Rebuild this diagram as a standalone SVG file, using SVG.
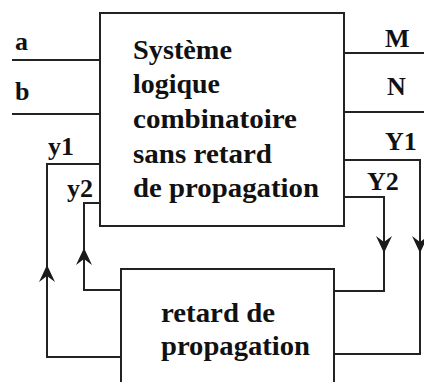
<svg xmlns="http://www.w3.org/2000/svg" xmlns:xlink="http://www.w3.org/1999/xlink" width="424" height="382" viewBox="0 0 424 382">
  <style>
    .box { fill: #ffffff; stroke: #222222; stroke-width: 2; }
    .wire { fill: none; stroke: #222222; stroke-width: 2; }
    .txt { font-family: "Liberation Serif", "Times New Roman", serif; font-weight: bold; font-size: 28px; fill: #111111; }
    .lbl { font-family: "Liberation Serif", "Times New Roman", serif; font-weight: bold; font-size: 26px; fill: #111111; }
    .head { fill: #1a1a1a; }
  </style>
  <defs>
    <!-- barbed arrowhead, tip at origin, pointing up -->
    <path id="arrowUp" class="head" d="M0,0 L8,17 L0,11 L-8,17 Z"/>
  </defs>
  <rect width="424" height="382" fill="#ffffff"/>

  <g id="connectors">
    <!-- inputs -->
    <path class="wire" d="M12,60 H100"/>
    <path class="wire" d="M12,114 H100"/>
    <!-- outputs -->
    <path class="wire" d="M344,53 H424"/>
    <path class="wire" d="M344,112 H424"/>
    <!-- Y1 / Y2 to delay block -->
    <path class="wire" d="M344,160 H420 V354 H334"/>
    <path class="wire" d="M344,197 H384 V291 H334"/>
    <!-- delay block back to y1 / y2 -->
    <path class="wire" d="M121,357 H47 V164 H100"/>
    <path class="wire" d="M121,290 H84 V203 H100"/>
    <!-- arrowheads -->
    <use xlink:href="#arrowUp" transform="translate(47,265)"/>
    <use xlink:href="#arrowUp" transform="translate(84,248)"/>
    <use xlink:href="#arrowUp" transform="translate(384,253) rotate(180)"/>
    <use xlink:href="#arrowUp" transform="translate(420,253) rotate(180)"/>
  </g>

  <g id="combinational">
    <rect class="box" x="100" y="13" width="244" height="213"/>
    <text class="txt" x="133" y="59" textLength="99" lengthAdjust="spacingAndGlyphs">Système</text>
    <text class="txt" x="133" y="93" textLength="87" lengthAdjust="spacingAndGlyphs">logique</text>
    <text class="txt" x="133" y="128" textLength="164" lengthAdjust="spacingAndGlyphs">combinatoire</text>
    <text class="txt" x="133" y="163" textLength="139" lengthAdjust="spacingAndGlyphs">sans retard</text>
    <text class="txt" x="133" y="197" textLength="186" lengthAdjust="spacingAndGlyphs">de propagation</text>
  </g>

  <g id="delay">
    <rect class="box" x="121" y="269" width="213" height="130"/>
    <text class="txt" x="161" y="322" textLength="114" lengthAdjust="spacingAndGlyphs">retard de</text>
    <text class="txt" x="161" y="355" textLength="149" lengthAdjust="spacingAndGlyphs">propagation</text>
  </g>

  <g id="labels">
    <text class="lbl" x="15" y="50">a</text>
    <text class="lbl" x="15" y="100">b</text>
    <text class="lbl" x="385" y="47">M</text>
    <text class="lbl" x="387" y="95">N</text>
    <text class="lbl" x="385" y="150">Y1</text>
    <text class="lbl" x="367" y="190">Y2</text>
    <text class="lbl" x="48" y="155">y1</text>
    <text class="lbl" x="67" y="197">y2</text>
  </g>
</svg>
